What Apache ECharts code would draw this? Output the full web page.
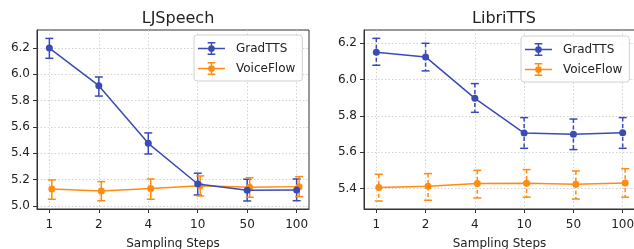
<!DOCTYPE html>
<html>
<head>
<meta charset="utf-8">
<script src="https://cdn.jsdelivr.net/npm/echarts@6/dist/echarts.min.js"></script>
<style>
  html, body { margin: 0; padding: 0; background: #fff; }
  #chart { width: 634px; height: 249px; }
</style>
</head>
<body>
<div id="chart"></div>
<script>
// sampling steps on the x axis
const steps = ['1', '2', '4', '10', '50', '100'];

// LJSpeech
const ljGradMean = [6.200, 5.914, 5.476, 5.167, 5.120, 5.122];
const ljGradLow  = [6.122, 5.835, 5.395, 5.084, 5.038, 5.040];
const ljGradHigh = [6.273, 5.980, 5.555, 5.249, 5.203, 5.205];
const ljFlowMean = [5.129, 5.114, 5.132, 5.154, 5.142, 5.147];
const ljFlowLow  = [5.051, 5.040, 5.051, 5.076, 5.066, 5.071];
const ljFlowHigh = [5.198, 5.185, 5.205, 5.228, 5.215, 5.223];
const ljTicks = [5.0, 5.2, 5.4, 5.6, 5.8, 6.0, 6.2];

// LibriTTS
const ltGradMean = [6.150, 6.125, 5.897, 5.706, 5.699, 5.708];
const ltGradLow  = [6.079, 6.048, 5.820, 5.622, 5.615, 5.622];
const ltGradHigh = [6.227, 6.200, 5.978, 5.791, 5.783, 5.791];
const ltFlowMean = [5.406, 5.413, 5.428, 5.430, 5.424, 5.431];
const ltFlowLow  = [5.332, 5.336, 5.349, 5.353, 5.343, 5.353];
const ltFlowHigh = [5.479, 5.483, 5.501, 5.505, 5.497, 5.510];
const ltTicks = [5.4, 5.6, 5.8, 6.0, 6.2];

const BLUE = '#3a4bb6';
const ORANGE = '#ff8c0e';
const FONT = 'DejaVu Sans';
const FLOW_SHIFT = 0.05; // VoiceFlow markers sit slightly right of the category

// line + error bar + marker, all drawn clockwise so the fill stays solid
const legendIcon = 'path://M0 7.25h28v1.5H0z M13.25 2h1.5v12h-1.5z M10 1.25h8v1.5h-8z M10 13.25h8v1.5h-8z M10.5 8a3.5 3.5 0 1 1 7 0a3.5 3.5 0 1 1 -7 0z';

function errRender(dashed) {
    return function (params, api) {
        const x = api.value(0);
        const top = api.coord([x, api.value(2)]);
        const bot = api.coord([x, api.value(1)]);
        const color = api.visual('color');
        const capStyle = { stroke: color, lineWidth: 1.5 };
        return {
            type: 'group',
            children: [
                { type: 'line', shape: { x1: top[0], y1: top[1], x2: bot[0], y2: bot[1] },
                  style: { stroke: color, lineWidth: 1.5, lineDash: dashed ? [4, 2.5] : null } },
                { type: 'line', shape: { x1: top[0] - 4, y1: top[1], x2: top[0] + 4, y2: top[1] }, style: capStyle },
                { type: 'line', shape: { x1: bot[0] - 4, y1: bot[1], x2: bot[0] + 4, y2: bot[1] }, style: capStyle }
            ]
        };
    };
}

function points(mean, shift) {
    return mean.map((v, i) => [i + shift, v]);
}
function bars(low, high, shift) {
    return low.map((v, i) => [i + shift, v, high[i]]);
}

function makeSeries(idx, gradMean, gradLow, gradHigh, flowMean, flowLow, flowHigh, dashed) {
    const base = { xAxisIndex: idx, yAxisIndex: idx };
    return [
        { ...base, type: 'custom', name: 'GradTTS err' + idx, renderItem: errRender(dashed),
          itemStyle: { color: BLUE }, encode: { x: 0, y: [1, 2] }, data: bars(gradLow, gradHigh, 0), z: 2, silent: true },
        { ...base, type: 'custom', name: 'VoiceFlow err' + idx, renderItem: errRender(dashed),
          itemStyle: { color: ORANGE }, encode: { x: 0, y: [1, 2] }, data: bars(flowLow, flowHigh, FLOW_SHIFT), z: 2, silent: true },
        { ...base, type: 'line', name: 'GradTTS', data: points(gradMean, 0), symbol: 'circle', symbolSize: 7,
          itemStyle: { color: BLUE }, lineStyle: { color: BLUE, width: 1.5 }, z: 4 },
        { ...base, type: 'line', name: 'VoiceFlow', data: points(flowMean, FLOW_SHIFT), symbol: 'circle', symbolSize: 7,
          itemStyle: { color: ORANGE }, lineStyle: { color: ORANGE, width: 1.5 }, z: 3 }
    ];
}

const gridLine = { show: true, lineStyle: { color: '#c8c8c8', type: [1.5, 2], width: 0.8 } };

function xAxisFor(idx) {
    return {
        type: 'value', gridIndex: idx, min: -0.25, max: 5.25, splitNumber: 5,
        axisLine: { show: true, onZero: false, lineStyle: { color: '#333' } },
        axisTick: { show: true, length: 4, lineStyle: { color: '#333' }, customValues: [0, 1, 2, 3, 4, 5] },
        axisLabel: { customValues: [0, 1, 2, 3, 4, 5], margin: 10, color: '#222', fontFamily: FONT, fontSize: 12,
                     formatter: v => steps[Math.round(v)] },
        splitLine: gridLine,
        name: 'Sampling Steps', nameLocation: 'middle', nameGap: 29,
        nameTextStyle: { color: '#222', fontFamily: FONT, fontSize: 12 }
    };
}

function yAxisFor(idx, min, max, ticks) {
    return {
        type: 'value', gridIndex: idx, min: min, max: max, splitNumber: 7,
        axisLine: { show: true, onZero: false, lineStyle: { color: '#333' } },
        axisTick: { show: true, length: 4, lineStyle: { color: '#333' }, customValues: ticks },
        axisLabel: { customValues: ticks, margin: 7, color: '#222', fontFamily: FONT, fontSize: 12,
                     formatter: v => v.toFixed(1) },
        splitLine: gridLine
    };
}

function legendAt(left, top) {
    return {
        left: left, top: top, orient: 'vertical',
        data: ['GradTTS', 'VoiceFlow'],
        icon: legendIcon, itemWidth: 27, itemHeight: 13, itemGap: 7,
        padding: [7, 7, 6, 4],
        backgroundColor: 'rgba(255,255,255,0.85)', borderColor: '#d0d0d0', borderWidth: 1, borderRadius: 3,
        textStyle: { color: '#222', fontFamily: FONT, fontSize: 12, padding: [0, 0, 0, 6] },
        selectedMode: false
    };
}

const chart = echarts.init(document.getElementById('chart'));
chart.setOption({
    animation: false,
    title: [
        { text: 'LJSpeech', left: 173, top: 6, textAlign: 'center',
          textStyle: { fontFamily: FONT, fontSize: 16, fontWeight: 'normal', color: '#222' } },
        { text: 'LibriTTS', left: 499, top: 6, textAlign: 'center',
          textStyle: { fontFamily: FONT, fontSize: 16, fontWeight: 'normal', color: '#222' } }
    ],
    legend: [legendAt(194, 35), legendAt(521, 36)],
    grid: [
        { left: 37, top: 30, width: 272, height: 179, show: true, borderColor: '#333', borderWidth: 1,
          outerBoundsMode: 'none', containLabel: false },
        { left: 364, top: 30, width: 271, height: 179, show: true, borderColor: '#333', borderWidth: 1,
          outerBoundsMode: 'none', containLabel: false }
    ],
    xAxis: [xAxisFor(0), xAxisFor(1)],
    yAxis: [yAxisFor(0, 4.977, 6.337, ljTicks), yAxisFor(1, 5.288, 6.273, ltTicks)],
    series: [
        ...makeSeries(0, ljGradMean, ljGradLow, ljGradHigh, ljFlowMean, ljFlowLow, ljFlowHigh, false),
        ...makeSeries(1, ltGradMean, ltGradLow, ltGradHigh, ltFlowMean, ltFlowLow, ltFlowHigh, true)
    ]
});
window.addEventListener('resize', () => chart.resize());
</script>
</body>
</html>
